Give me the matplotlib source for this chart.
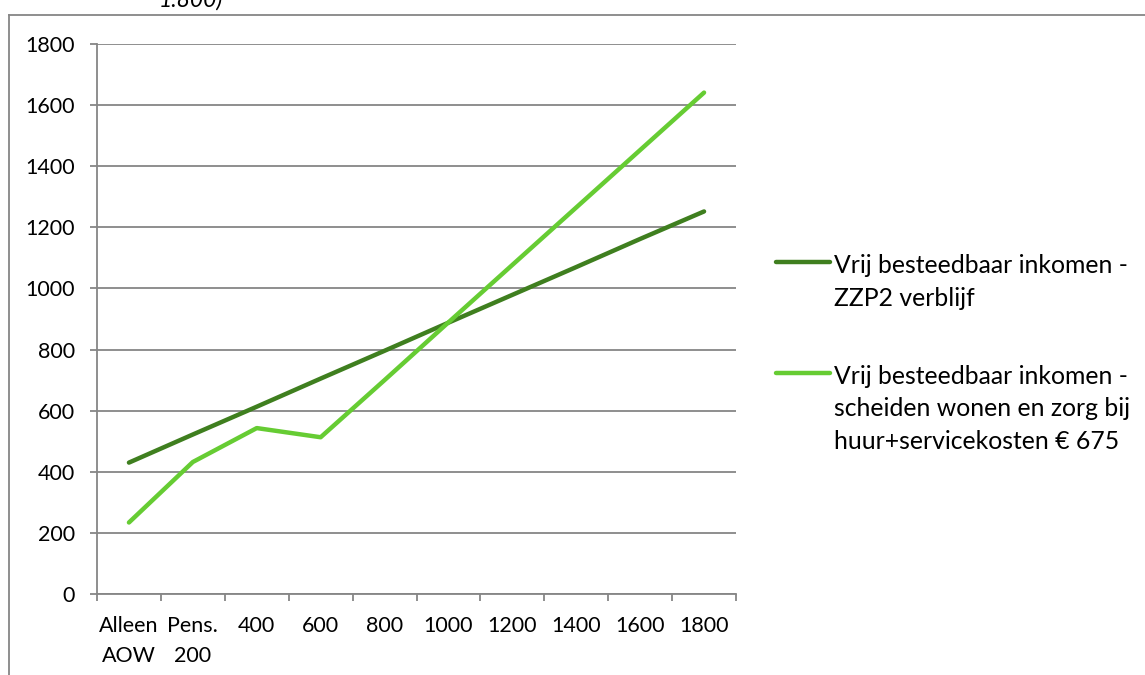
import matplotlib
matplotlib.use("Agg")
import matplotlib.pyplot as plt
from matplotlib.lines import Line2D

plt.rcParams['font.family'] = ['Lato', 'DejaVu Sans']

categories = ["Alleen\nAOW", "Pens.\n200", "400", "600", "800", "1000", "1200", "1400", "1600", "1800"]
zzp2 = [430, 522, 613, 705, 796, 888, 979, 1070, 1162, 1252]
scheiden = [234, 432, 543, 513, 700, 889, 1077, 1265, 1453, 1641]
series_names = ["Vrij besteedbaar inkomen -\nZZP2 verblijf",
                "Vrij besteedbaar inkomen -\nscheiden wonen en zorg bij\nhuur+servicekosten € 675"]
series_colors = ["#3F7F1F", "#66CC33"]
yticks = [0, 200, 400, 600, 800, 1000, 1200, 1400, 1600, 1800]

W, H = 1145, 675
fig = plt.figure(figsize=(W / 100, H / 100), dpi=100)
ax = fig.add_axes([97 / W, (H - 594) / H, 639 / W, 550 / H])

grey = "#868686"
fs = 15.5
x = list(range(len(categories)))
for vals, col in zip([zzp2, scheiden], series_colors):
    ax.plot(x, vals, color=col, lw=3.2, solid_capstyle='round', solid_joinstyle='round', zorder=3)

ax.set_xlim(-0.5, len(categories) - 0.5)
ax.set_ylim(0, 1800)
ax.set_yticks(yticks)
ax.set_yticklabels([str(v) for v in yticks], fontsize=fs)
ax.yaxis.grid(True, color=grey, lw=1.3)
ax.set_axisbelow(True)
ax.set_xticks(x)
ax.set_xticklabels(categories, fontsize=fs, linespacing=1.6)
ax.set_xticks([i - 0.5 for i in range(len(categories) + 1)], minor=True)
ax.tick_params(axis='x', which='major', length=0, pad=16)
ax.tick_params(axis='x', which='minor', length=5, width=1.3, color=grey, direction='out')
ax.tick_params(axis='y', length=5, width=1.3, color=grey, pad=11)
for s in ['top', 'right']:
    ax.spines[s].set_visible(False)
for s in ['left', 'bottom']:
    ax.spines[s].set_color(grey)
    ax.spines[s].set_linewidth(1.3)

# outer frame (cut off at right and bottom)
fig.add_artist(Line2D([8.5 / W, 8.5 / W], [0, 1 - 15 / H], color=grey, lw=1.3, transform=fig.transFigure))
fig.add_artist(Line2D([8.5 / W, 1], [1 - 15 / H, 1 - 15 / H], color=grey, lw=1.3, transform=fig.transFigure))

# cut-off title fragment
fig.text(191 / W, 1 - 7 / H, "1.800)", ha='center', va='baseline', fontsize=16.5, style='italic')

# legend
lfs = 17.8
entries_y = [262, 373]
for name, col, ly in zip(series_names, series_colors, entries_y):
    fig.add_artist(Line2D([776 / W, 830 / W], [1 - ly / H, 1 - ly / H], color=col, lw=3.2,
                          solid_capstyle='round', transform=fig.transFigure))
    fig.text(834 / W, 1 - (ly - 8) / H, name, ha='left', va='top', fontsize=lfs, linespacing=1.5)

fig.savefig("out.png", dpi=100)
